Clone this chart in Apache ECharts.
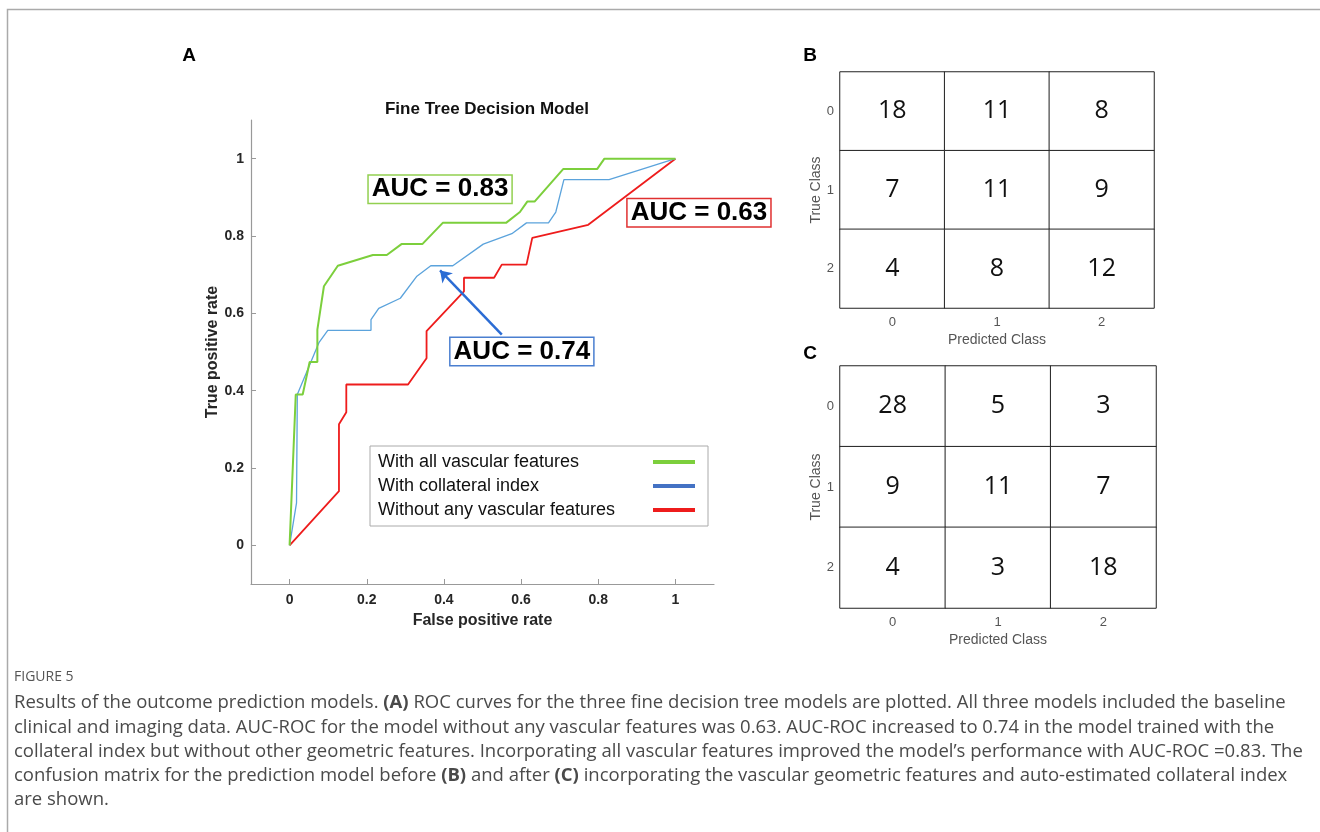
<!DOCTYPE html>
<html>
<head>
<meta charset="utf-8">
<script src="https://cdn.jsdelivr.net/npm/echarts@6/dist/echarts.min.js"></script>
<style>
  html, body { margin: 0; padding: 0; background: #fff; }
  #chart { width: 1320px; height: 832px; }
</style>
</head>
<body>
<div id="chart"></div>
<script>
// ---------------- data ----------------
const seriesNames = ['With all vascular features', 'With collateral index', 'Without any vascular features'];

const allVascularFPR = [0, 0.016, 0.034, 0.052, 0.072, 0.072, 0.089, 0.125, 0.216, 0.252, 0.29, 0.344, 0.397, 0.561, 0.597, 0.616, 0.635, 0.709, 0.797, 0.816, 1.0];
const allVascularTPR = [0, 0.39, 0.39, 0.474, 0.474, 0.558, 0.67, 0.723, 0.751, 0.751, 0.779, 0.779, 0.834, 0.834, 0.862, 0.889, 0.889, 0.973, 0.973, 1.0, 1.0];

const collateralFPR = [0, 0.018, 0.02, 0.076, 0.099, 0.211, 0.211, 0.231, 0.287, 0.33, 0.366, 0.423, 0.502, 0.576, 0.614, 0.671, 0.69, 0.711, 0.828, 1.0];
const collateralTPR = [0, 0.11, 0.39, 0.524, 0.556, 0.556, 0.584, 0.613, 0.639, 0.696, 0.723, 0.723, 0.779, 0.806, 0.834, 0.834, 0.862, 0.946, 0.946, 1.0];

const noVascularFPR = [0, 0.128, 0.128, 0.147, 0.147, 0.307, 0.355, 0.355, 0.452, 0.452, 0.53, 0.55, 0.614, 0.629, 0.774, 1.0];
const noVascularTPR = [0, 0.14, 0.313, 0.344, 0.416, 0.416, 0.484, 0.554, 0.657, 0.692, 0.692, 0.726, 0.726, 0.795, 0.829, 1.0];

const rocTicks = [0, 0.2, 0.4, 0.6, 0.8, 1];
const rocTickLabels = ['0', '0.2', '0.4', '0.6', '0.8', '1'];

const aucTexts = ['AUC = 0.83', 'AUC = 0.74', 'AUC = 0.63'];
const aucAnchors = [[0.39, 0.921], [0.602, 0.501], [1.061, 0.86]];
const arrowFrom = [0.55, 0.545];
const arrowTo = [0.39, 0.711];

const classLabels = ['0', '1', '2'];
const matrixBefore = [[18, 11, 8], [7, 11, 9], [4, 8, 12]];
const matrixAfter = [[28, 5, 3], [9, 11, 7], [4, 3, 18]];

const captionHead = 'FIGURE 5';
const captionLines = [
  'Results of the outcome prediction models. {b|(A)} ROC curves for the three fine decision tree models are plotted. All three models included the baseline',
  'clinical and imaging data. AUC-ROC for the model without any vascular features was 0.63. AUC-ROC increased to 0.74 in the model trained with the',
  'collateral index but without other geometric features. Incorporating all vascular features improved the model\u2019s performance with AUC-ROC =0.83. The',
  'confusion matrix for the prediction model before {b|(B)} and after {b|(C)} incorporating the vascular geometric features and auto-estimated collateral index',
  'are shown.'
];

// ---------------- build ----------------
const zip = (xs, ys) => xs.map((x, i) => [x, ys[i]]);
const toCells = m => { const out = []; m.forEach((row, r) => row.forEach((v, c) => out.push([c, r, v]))); return out; };

const curveColors = ['#7ccf3c', '#5ba3dc', '#ee1c1c'];
const legendColors = ['#7ccf3c', '#4472c4', '#ee1c1c'];
const boxColors = ['#92d050', '#4a7fd0', '#e03030'];
const curveWidths = [2, 1.3, 1.8];
const FONT = 'Liberation Sans, Arial, sans-serif';
const CAPFONT = 'Open Sans, Noto Sans, sans-serif';

function aucMark(i) {
  return {
    symbol: 'rect', symbolSize: 1, itemStyle: { color: 'rgba(0,0,0,0)' }, silent: true,
    label: {
      show: true, position: 'inside', formatter: aucTexts[i],
      fontFamily: FONT, fontWeight: 'bold', fontSize: 26, color: '#000',
      backgroundColor: '#fff', borderColor: boxColors[i], borderWidth: 1.5, padding: [1, 3, 0, 3]
    },
    data: [{ coord: aucAnchors[i] }]
  };
}

const rocData = [zip(allVascularFPR, allVascularTPR), zip(collateralFPR, collateralTPR), zip(noVascularFPR, noVascularTPR)];

const rocSeries = rocData.map((d, i) => ({
  name: seriesNames[i], type: 'line', xAxisIndex: 0, yAxisIndex: 0,
  data: d, showSymbol: false, symbol: 'none', clip: false, z: 3 - i + 2,
  lineStyle: { color: curveColors[i], width: curveWidths[i] },
  itemStyle: { color: curveColors[i] },
  markPoint: aucMark(i)
}));
rocSeries[1].markLine = {
  silent: true, symbol: ['none', 'arrow'], symbolSize: 11,
  lineStyle: { color: '#2b6cd4', width: 2.5, type: 'solid' },
  label: { show: false },
  data: [[{ coord: arrowFrom }, { coord: arrowTo }]]
};

function matrixAxes(gridIndex) {
  return {
    x: {
      type: 'category', gridIndex, data: classLabels, position: 'bottom',
      axisLine: { show: false }, axisTick: { show: false }, splitLine: { show: false },
      axisLabel: { color: '#555', fontSize: 13, fontFamily: FONT, margin: 8 },
      name: 'Predicted Class', nameLocation: 'middle', nameGap: 25,
      nameTextStyle: { color: '#555', fontSize: 14, fontFamily: FONT }
    },
    y: {
      type: 'category', gridIndex, data: classLabels, inverse: true,
      axisLine: { show: false }, axisTick: { show: false }, splitLine: { show: false },
      axisLabel: { color: '#555', fontSize: 13, fontFamily: FONT, margin: 6 },
      name: 'True Class', nameLocation: 'middle', nameGap: 14,
      nameTextStyle: { color: '#555', fontSize: 14, fontFamily: FONT }
    }
  };
}
const axB = matrixAxes(1), axC = matrixAxes(2);

function matrixSeries(m, idx) {
  return {
    type: 'heatmap', xAxisIndex: idx, yAxisIndex: idx, data: toCells(m),
    itemStyle: { color: '#fff', borderColor: '#222', borderWidth: 1 },
    label: { show: true, color: '#111', fontSize: 25, fontWeight: 500, fontFamily: CAPFONT },
    emphasis: { disabled: true }
  };
}

const graphics = [
  { type: 'rect', shape: { x: 7.5, y: 9.5, width: 1400, height: 900 }, style: { fill: 'none', stroke: '#aaa', lineWidth: 1.5 }, silent: true },
  { type: 'text', x: 189, y: 56, style: { text: 'A', font: 'bold 19px ' + FONT, fill: '#000', textAlign: 'center', textVerticalAlign: 'middle' } },
  { type: 'text', x: 810, y: 56, style: { text: 'B', font: 'bold 19px ' + FONT, fill: '#000', textAlign: 'center', textVerticalAlign: 'middle' } },
  { type: 'text', x: 810, y: 354, style: { text: 'C', font: 'bold 19px ' + FONT, fill: '#000', textAlign: 'center', textVerticalAlign: 'middle' } },
  { type: 'text', x: 14, y: 677, style: { text: captionHead, font: '14px ' + CAPFONT, fill: '#555', textVerticalAlign: 'middle', letterSpacing: 3.5 } }
];
captionLines.forEach((t, i) => {
  graphics.push({
    type: 'text', x: 14, y: 703 + i * 24.3,
    style: {
      text: t, font: '18.5px ' + CAPFONT, fill: '#4a4a4a', textVerticalAlign: 'middle',
      rich: { b: { fontWeight: 'bold', fontSize: 18.5, fontFamily: CAPFONT, fill: '#4a4a4a', color: '#4a4a4a' } }
    }
  });
});

const option = {
  backgroundColor: '#fff',
  animation: false,
  title: {
    text: 'Fine Tree Decision Model', left: 482, top: 96, textAlign: 'center',
    textStyle: { fontFamily: FONT, fontWeight: 'bold', fontSize: 17, color: '#111' }
  },
  legend: {
    data: seriesNames.map((n, i) => ({ name: n, itemStyle: { color: legendColors[i] } })),
    orient: 'vertical', left: 370, top: 446, align: 'right',
    icon: 'rect', itemWidth: 42, itemHeight: 4, itemGap: 2,
    padding: [5, 13, 5, 8],
    backgroundColor: '#fff', borderColor: '#aaa', borderWidth: 1,
    formatter: name => '{t|' + name + '}',
    textStyle: {
      fontFamily: FONT, fontSize: 18, color: '#111', lineHeight: 22,
      rich: { t: { width: 270, align: 'left', fontFamily: FONT, fontSize: 18, color: '#111', lineHeight: 22 } }
    },
    selectedMode: false
  },
  grid: [
    { left: 251, top: 120, width: 463, height: 464 },
    { left: 840, top: 72, width: 314, height: 236 },
    { left: 840, top: 366, width: 316, height: 242 }
  ],
  xAxis: [
    {
      type: 'value', gridIndex: 0, min: -0.1, max: 1.1,
      splitLine: { show: false },
      axisLine: { onZero: false, lineStyle: { color: '#999', width: 1.2 } },
      axisTick: { inside: true, length: 5, customValues: rocTicks, lineStyle: { color: '#999' } },
      axisLabel: {
        customValues: rocTicks, margin: 9, fontFamily: FONT, fontWeight: 'bold', fontSize: 14, color: '#262626',
        formatter: v => rocTickLabels[rocTicks.findIndex(t => Math.abs(t - v) < 1e-9)]
      },
      name: 'False positive rate', nameLocation: 'middle', nameGap: 29,
      nameTextStyle: { fontFamily: FONT, fontWeight: 'bold', fontSize: 16, color: '#262626' }
    },
    axB.x, axC.x
  ],
  yAxis: [
    {
      type: 'value', gridIndex: 0, min: -0.1, max: 1.1,
      splitLine: { show: false },
      axisLine: { onZero: false, lineStyle: { color: '#999', width: 1.2 } },
      axisTick: { inside: true, length: 5, customValues: rocTicks, lineStyle: { color: '#999' } },
      axisLabel: {
        customValues: rocTicks, margin: 7, fontFamily: FONT, fontWeight: 'bold', fontSize: 14, color: '#262626',
        formatter: v => rocTickLabels[rocTicks.findIndex(t => Math.abs(t - v) < 1e-9)]
      },
      name: 'True positive rate', nameLocation: 'middle', nameGap: 30,
      nameTextStyle: { fontFamily: FONT, fontWeight: 'bold', fontSize: 16, color: '#262626' }
    },
    axB.y, axC.y
  ],
  series: [...rocSeries, matrixSeries(matrixBefore, 1), matrixSeries(matrixAfter, 2)],
  graphic: graphics
};

const chart = echarts.init(document.getElementById('chart'), null, { renderer: 'canvas' });
chart.setOption(option);
</script>
</body>
</html>
